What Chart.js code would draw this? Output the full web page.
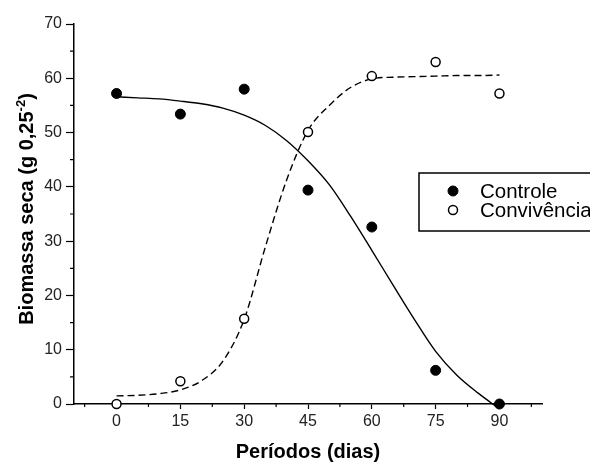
<!DOCTYPE html>
<html>
<head>
<meta charset="utf-8">
<script src="https://cdn.jsdelivr.net/npm/chart.js@4"></script>
<style>
html, body { margin: 0; padding: 0; background: #fff; }
</style>
</head>
<body>
<canvas id="myChart" width="590" height="464"></canvas>
<script>
var fam = '"Liberation Sans", Arial, sans-serif';

// observed values
var dias = [0, 15, 30, 45, 60, 75, 90];
var controle = [57.2, 53.4, 58.0, 39.4, 32.6, 6.2, 0.0];
var convivencia = [0.0, 4.2, 15.7, 50.1, 60.4, 63.0, 57.2];

// fitted curves
var curvaX = [0, 5, 10, 15, 20, 25, 30, 35, 40, 45, 50, 55, 60, 65, 70, 75, 80, 85, 90];
var curvaControle = [56.6, 56.4, 56.2, 55.8, 55.3, 54.5, 53.2, 51.3, 48.5, 44.8, 40.4, 34.6, 28.3, 21.9, 15.6, 9.7, 5.3, 2.0, -0.9];
var curvaConvivencia = [1.5, 1.6, 1.9, 2.6, 4.3, 7.9, 15.6, 29.0, 41.3, 50.4, 55.0, 58.3, 59.9, 60.2, 60.3, 60.4, 60.5, 60.5, 60.6];

var xTicks = [0, 15, 30, 45, 60, 75, 90];
var xMinor = [-7.5, 7.5, 22.5, 37.5, 52.5, 67.5, 82.5, 97.5];
var yTicks = [0, 10, 20, 30, 40, 50, 60, 70];
var yMinor = [5, 15, 25, 35, 45, 55, 65];

var yTitleMain = 'Biomassa seca (g 0,25';
var yTitleSup = '-2';

function pts(xs, ys) {
    return xs.map(function (x, i) { return { x: x, y: ys[i] }; });
}

var minorTicks = {
    id: 'minorTicks',
    afterDraw: function (chart) {
        var ctx = chart.ctx, xs = chart.scales.x, ys = chart.scales.y;
        ctx.save();
        ctx.strokeStyle = '#000';
        ctx.lineWidth = 1.2;
        ctx.beginPath();
        xMinor.forEach(function (v) {
            var px = xs.getPixelForValue(v);
            ctx.moveTo(px, ys.bottom);
            ctx.lineTo(px, ys.bottom + 3);
        });
        yMinor.forEach(function (v) {
            var py = ys.getPixelForValue(v);
            ctx.moveTo(xs.left, py);
            ctx.lineTo(xs.left - 4, py);
        });
        ctx.stroke();
        ctx.restore();
    }
};

var yTitle = {
    id: 'yTitle',
    afterDraw: function (chart) {
        var ctx = chart.ctx, a = chart.chartArea;
        var big = 'bold 20px ' + fam, small = 'bold 13px ' + fam;
        ctx.save();
        ctx.translate(33, (a.top + a.bottom) / 2 - 5);
        ctx.rotate(-Math.PI / 2);
        ctx.fillStyle = '#000';
        ctx.textBaseline = 'alphabetic';
        ctx.font = big;
        var w1 = ctx.measureText(yTitleMain).width;
        var w3 = ctx.measureText(')').width;
        ctx.font = small;
        var w2 = ctx.measureText(yTitleSup).width;
        var x = -(w1 + w2 + w3) / 2;
        ctx.font = big;
        ctx.fillText(yTitleMain, x, 0);
        x += w1;
        ctx.font = small;
        ctx.fillText(yTitleSup, x, -8);
        x += w2;
        ctx.font = big;
        ctx.fillText(')', x, 0);
        ctx.restore();
    }
};

var boxLegend = {
    id: 'boxLegend',
    afterDraw: function (chart) {
        var ctx = chart.ctx;
        var left = 419, top = 173, bottom = 231;
        ctx.save();
        ctx.fillStyle = '#fff';
        ctx.fillRect(left, top, chart.width - left + 10, bottom - top);
        ctx.strokeStyle = '#000';
        ctx.lineWidth = 1.5;
        ctx.strokeRect(left, top, chart.width - left + 10, bottom - top);
        ctx.font = '20.5px ' + fam;
        ctx.textBaseline = 'middle';
        var rows = [191, 210];
        [0, 1].forEach(function (i) {
            var ds = chart.data.datasets[i];
            ctx.beginPath();
            ctx.arc(453, rows[i], ds.pointRadius, 0, Math.PI * 2);
            ctx.fillStyle = ds.backgroundColor;
            ctx.fill();
            ctx.lineWidth = ds.borderWidth;
            ctx.strokeStyle = ds.borderColor;
            ctx.stroke();
            ctx.fillStyle = '#000';
            ctx.fillText(ds.label, 480, rows[i] + 1);
        });
        ctx.restore();
    }
};

var ctx = document.getElementById('myChart').getContext('2d');
var myChart = new Chart(ctx, {
    type: 'scatter',
    data: {
        datasets: [{
            label: 'Controle',
            data: pts(dias, controle),
            pointRadius: 5,
            backgroundColor: '#000',
            borderColor: '#000',
            borderWidth: 1,
            clip: false,
            order: 0
        }, {
            label: 'Convivência',
            data: pts(dias, convivencia),
            pointRadius: 4.5,
            backgroundColor: '#fff',
            borderColor: '#000',
            borderWidth: 1.5,
            clip: false,
            order: 0
        }, {
            label: 'Ajuste controle',
            data: pts(curvaX, curvaControle),
            showLine: true,
            pointRadius: 0,
            borderColor: '#000',
            borderWidth: 1.4,
            cubicInterpolationMode: 'monotone',
            clip: false,
            order: 1
        }, {
            label: 'Ajuste convivência',
            data: pts(curvaX, curvaConvivencia),
            showLine: true,
            pointRadius: 0,
            borderColor: '#000',
            borderWidth: 1.4,
            borderDash: [7, 4],
            cubicInterpolationMode: 'monotone',
            clip: false,
            order: 1
        }]
    },
    options: {
        responsive: false,
        animation: false,
        layout: { padding: { top: 24, right: 48, left: 0, bottom: 0 } },
        plugins: {
            legend: { display: false },
            tooltip: { enabled: false }
        },
        scales: {
            x: {
                type: 'linear',
                min: -10,
                max: 100,
                afterBuildTicks: function (s) { s.ticks = xTicks.map(function (v) { return { value: v }; }); },
                afterFit: function (s) { s.height = 60; },
                grid: { drawOnChartArea: false, tickLength: 5, tickColor: '#000', tickWidth: 1.2 },
                border: { color: '#000', width: 1.5 },
                ticks: { color: '#222', padding: 3, maxRotation: 0, font: { size: 16, family: fam } },
                title: {
                    display: true,
                    text: 'Períodos (dias)',
                    color: '#000',
                    padding: 0,
                    font: { size: 20, weight: 'bold', family: fam }
                }
            },
            y: {
                min: 0,
                max: 70,
                afterBuildTicks: function (s) { s.ticks = yTicks.map(function (v) { return { value: v }; }); },
                afterFit: function (s) { s.width = 74; },
                grid: { drawOnChartArea: false, tickLength: 8, tickColor: '#000', tickWidth: 1.2 },
                border: { color: '#000', width: 1.5 },
                ticks: { color: '#222', padding: 4, font: { size: 16, family: fam } }
            }
        }
    },
    plugins: [minorTicks, yTitle, boxLegend]
});
</script>
</body>
</html>
